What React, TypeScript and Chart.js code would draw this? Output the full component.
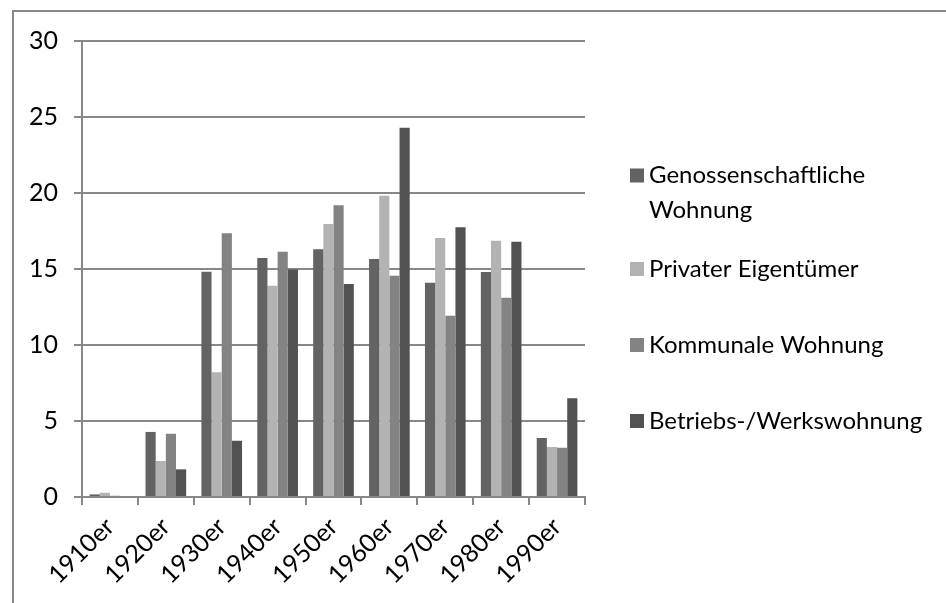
import { useEffect, useRef } from "react";
import { Chart, registerables } from "chart.js";

Chart.register(...registerables);

const categories = ["1910er", "1920er", "1930er", "1940er", "1950er", "1960er", "1970er", "1980er", "1990er"];
const seriesNames = ["Genossenschaftliche Wohnung", "Privater Eigentümer", "Kommunale Wohnung", "Betriebs-/Werkswohnung"];
const genossenschaftlich = [0.17, 4.28, 14.82, 15.72, 16.3, 15.66, 14.1, 14.8, 3.88];
const privat = [0.28, 2.37, 8.2, 13.9, 17.96, 19.82, 17.04, 16.86, 3.29];
const kommunal = [0.08, 4.16, 17.35, 16.14, 19.19, 14.56, 11.93, 13.11, 3.24];
const betrieb = [0, 1.82, 3.7, 14.96, 14.01, 24.3, 17.74, 16.8, 6.49];
const seriesColors = ["#636363", "#b3b3b3", "#838383", "#525252"];
const yMin = 0;
const yMax = 30;
const yStep = 5;

const FONT = "Lato";
const AXIS_COLOR = "#888888";

const framePlugin = {
  id: "frame",
  beforeDraw(chart: any) {
    const ctx = chart.ctx;
    ctx.save();
    ctx.strokeStyle = AXIS_COLOR;
    ctx.lineWidth = 2;
    ctx.beginPath();
    ctx.moveTo(13, chart.height);
    ctx.lineTo(13, 11);
    ctx.lineTo(chart.width, 11);
    ctx.stroke();
    ctx.restore();
  },
};

function wrapText(ctx: CanvasRenderingContext2D, text: string, maxWidth: number): string[] {
  const words = text.split(" ");
  const lines: string[] = [];
  let cur = "";
  for (const w of words) {
    const test = cur ? cur + " " + w : w;
    if (ctx.measureText(test).width > maxWidth && cur) {
      lines.push(cur);
      cur = w;
    } else {
      cur = test;
    }
  }
  if (cur) lines.push(cur);
  return lines;
}

const legendPlugin = {
  id: "customLegend",
  afterDraw(chart: any) {
    const ctx = chart.ctx as CanvasRenderingContext2D;
    const boxX = 630;
    const textX = 649;
    const slotTop = 155;
    const slotH = 76;
    const lineH = 35;
    const box = 14;
    ctx.save();
    ctx.font = `24px ${FONT}`;
    ctx.textBaseline = "middle";
    ctx.textAlign = "left";
    chart.data.datasets.forEach((ds: any, i: number) => {
      const lines = wrapText(ctx, ds.label, chart.width - textX - 8);
      const center = slotTop + slotH * i + slotH / 2;
      const firstY = center - ((lines.length - 1) * lineH) / 2;
      ctx.fillStyle = ds.backgroundColor;
      ctx.fillRect(boxX, firstY - box / 2, box, box);
      ctx.fillStyle = "#000";
      lines.forEach((ln, k) => ctx.fillText(ln, textX, firstY + k * lineH));
    });
    ctx.restore();
  },
};

export default function App() {
  const ref = useRef<HTMLCanvasElement | null>(null);
  useEffect(() => {
    if (!ref.current) return;
    const values = [genossenschaftlich, privat, kommunal, betrieb];
    const chart = new Chart(ref.current, {
      type: "bar",
      data: {
        labels: categories,
        datasets: seriesNames.map((name, i) => ({
          label: name,
          data: values[i],
          backgroundColor: seriesColors[i],
          borderWidth: 0,
          categoryPercentage: 4 / 5.5,
          barPercentage: 1,
        })),
      },
      options: {
        animation: false,
        responsive: false,
        layout: { padding: { left: 0, top: 41, right: 361, bottom: 0 } },
        plugins: { legend: { display: false }, tooltip: { enabled: false } },
        scales: {
          x: {
            afterFit(scale: any) {
              scale.height = 106;
            },
            grid: {
              display: true,
              drawOnChartArea: false,
              drawTicks: true,
              tickLength: 8,
              color: AXIS_COLOR,
              lineWidth: 2,
              offset: true,
            },
            border: { display: true, color: AXIS_COLOR, width: 2 },
            ticks: {
              autoSkip: false,
              minRotation: 45,
              maxRotation: 45,
              color: "#000",
              font: { family: FONT, size: 25 },
              padding: 7,
            },
          },
          y: {
            min: yMin,
            max: yMax,
            afterFit(scale: any) {
              scale.width = 82;
            },
            grid: {
              color: AXIS_COLOR,
              lineWidth: 2,
              drawTicks: true,
              tickLength: 8,
            },
            border: { display: true, color: AXIS_COLOR, width: 2 },
            ticks: {
              stepSize: yStep,
              color: "#000",
              font: { family: FONT, size: 25 },
              padding: 16,
            },
          },
        },
      },
      plugins: [framePlugin, legendPlugin],
    });
    return () => chart.destroy();
  }, []);
  return (
    <div style={{ position: "fixed", left: 0, top: 0, width: 946, height: 603, background: "#fff" }}>
      <canvas ref={ref} width={946} height={603} style={{ display: "block" }} />
    </div>
  );
}
